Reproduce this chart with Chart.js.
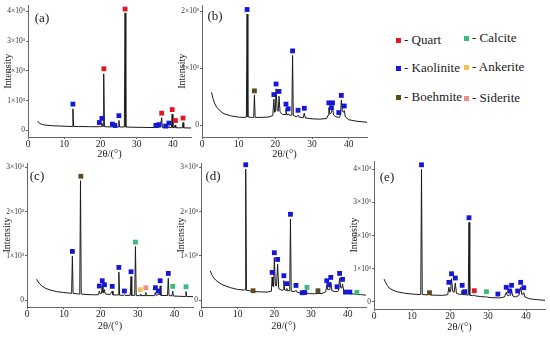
<!DOCTYPE html>
<html>
<head>
<meta charset="utf-8">
<script src="https://cdn.jsdelivr.net/npm/chart.js@4.4.1/dist/chart.umd.min.js"></script>
<style>
  body { margin: 0; background: #fff; width: 550px; height: 338px; position: relative; overflow: hidden; font-family: "Liberation Serif", "Times New Roman", Times, "DejaVu Serif", serif; color: #1a1a1a; }
  canvas { position: absolute; }
  .tag { position: absolute; font-size: 13px; line-height: 1; transform: translate(-50%, -50%); }
  .key { position: absolute; font-size: 13px; line-height: 14px; display: flex; align-items: center; white-space: nowrap; }
  .key i { display: inline-block; width: 5px; height: 5px; margin-right: 3px; }
</style>
</head>
<body>
<canvas id="chartA"></canvas>
<canvas id="chartB"></canvas>
<canvas id="chartC"></canvas>
<canvas id="chartD"></canvas>
<canvas id="chartE"></canvas>
<script>
const minerals = ['Quart', 'Kaolinite', 'Boehmite', 'Calcite', 'Ankerite', 'Siderite']
const mineralCodes = ['Q', 'K', 'B', 'C', 'A', 'S']
const mineralColors = ['#e3171f', '#1616d6', '#5b4a1c', '#3dbb7a', '#f2c250', '#f08c8c']

const xTicks = [0, 10, 20, 30, 40]
const yTicks3 = [0, 1000, 2000, 3000]
const yTicks4 = [0, 1000, 2000, 3000, 4000]
const yTicks2 = [0, 1000, 2000]

// (a) pattern [2theta, intensity] and phase marks [2theta, intensity, phase]
const patternA = [[2.7,310],[3.2,230],[4,190],[5,170],[7,150],[9,140],[11,130],[12.2,128],[12.4,720],[12.6,128],[14,125],[17,120],[19.6,118],[19.8,135],[20,118],[20.25,120],[20.4,240],[20.6,130],[20.75,130],[20.9,1900],[21.1,120],[22,115],[23.1,112],[23.3,125],[23.5,112],[23.85,110],[24,118],[24.15,110],[24.9,110],[25.1,330],[25.3,110],[26.6,108],[26.8,3950],[27,108],[29,100],[32,95],[35.1,90],[35.3,100],[35.5,90],[36.1,90],[36.3,105],[36.5,92],[36.7,92],[36.9,420],[37.1,90],[37.8,88],[38,100],[38.2,88],[38.7,88],[38.9,130],[39.1,88],[39.6,88],[39.8,540],[40,88],[40.4,85],[40.6,170],[40.8,85],[42.6,80],[42.8,260],[43,80],[45,75]]
const marksA = [[12.4,880,'K'],[19.7,260,'K'],[20.4,400,'K'],[23.3,205,'K'],[24.0,160,'K'],[25.1,490,'K'],[35.3,165,'K'],[36.2,190,'K'],[38.0,140,'K'],[38.9,240,'K'],
  [20.95,2070,'Q'],[26.8,4080,'Q'],[36.9,575,'Q'],[39.8,695,'Q'],[40.7,325,'Q'],[42.8,410,'Q']]

// (b)
const patternB = [[2.6,580],[3,470],[3.5,380],[4,320],[5,250],[6,205],[8,165],[10,145],[11.5,140],[12.1,145],[12.3,1950],[12.5,150],[13.5,140],[14.1,140],[14.3,530],[14.5,140],[16,140],[18,145],[19.3,170],[19.6,460],[19.8,230],[20,240],[20.2,640],[20.5,260],[20.8,250],[21.0,510],[21.3,230],[22,190],[22.7,190],[22.9,290],[23.1,190],[23.3,185],[23.5,205],[23.8,180],[24.5,180],[24.7,1225],[24.9,175],[25.8,150],[26.2,180],[26.5,145],[27.6,135],[27.9,215],[28.2,130],[30,115],[32,110],[34,120],[34.4,180],[34.6,310],[34.9,200],[35.3,225],[35.6,310],[35.9,180],[36.5,150],[37.1,145],[37.3,140],[37.6,150],[37.8,200],[38.0,440],[38.3,250],[38.6,230],[38.8,260],[39.1,150],[40,100],[42,75],[45,55]]
const marksB = [[12.3,2030,'K'],[19.6,540,'K'],[20.2,725,'K'],[21.0,595,'K'],[22.9,373,'K'],[23.5,290,'K'],[24.7,1305,'K'],[26.2,265,'K'],[27.9,300,'K'],[34.6,395,'K'],[35.3,310,'K'],[35.6,395,'K'],[37.3,225,'K'],[38.0,525,'K'],[38.8,340,'K'],
  [14.3,605,'B']]

// (c)
const patternC = [[2.6,470],[3,410],[3.5,360],[4,320],[5,265],[6,235],[8,190],[10,170],[11.5,155],[12.1,150],[12.3,990],[12.5,150],[13.5,140],[14.3,135],[14.5,2700],[14.7,135],[16,125],[18,118],[19.4,120],[19.6,200],[19.8,150],[20.2,150],[20.4,320],[20.6,170],[20.8,160],[21.0,235],[21.2,140],[22.5,120],[23.1,200],[23.3,115],[24.7,115],[24.9,630],[25.1,110],[26.2,105],[26.4,120],[26.6,105],[28,105],[28.2,530],[28.4,105],[29.2,105],[29.4,1210],[29.6,100],[30.5,100],[30.7,125],[30.9,100],[32,100],[32.2,170],[32.4,100],[34.6,100],[34.8,170],[35,110],[35.4,110],[35.6,130],[35.9,120],[36.1,320],[36.3,105],[38.1,100],[38.3,490],[38.5,100],[39.3,95],[39.5,200],[39.7,90],[41,85],[42.9,80],[43.1,190],[43.3,80],[45,75]]
const marksC = [[12.3,1100,'K'],[19.6,316,'K'],[20.4,436,'K'],[21.0,346,'K'],[23.1,309,'K'],[24.9,738,'K'],[26.4,203,'K'],[28.2,640,'K'],[34.8,278,'K'],[35.6,203,'K'],[36.1,436,'K'],[38.3,602,'K'],
  [14.6,2800,'B'],[29.4,1310,'C'],[39.5,309,'C'],[43.1,300,'C'],[30.7,233,'A'],[32.2,278,'S']]

// (d)
const patternD = [[2.5,660],[3,560],[3.5,500],[4,450],[5,390],[6,340],[8,280],[10,240],[11.8,225],[12.0,230],[12.2,2960],[12.4,220],[13.5,205],[14.0,195],[14.2,225],[14.4,190],[16,185],[18,180],[19.2,200],[19.4,520],[19.6,320],[19.8,300],[20.0,960],[20.3,330],[20.6,320],[20.9,810],[21.2,260],[22,220],[22.4,230],[22.6,440],[22.8,230],[23.2,220],[23.4,260],[23.6,210],[24.2,210],[24.4,1830],[24.6,200],[25.6,190],[25.9,220],[26.2,175],[27.5,150],[27.6,158],[28.3,150],[28.9,158],[29.5,145],[31,140],[31.9,148],[33,145],[34.0,185],[34.3,330],[34.6,230],[34.9,240],[35.1,230],[35.4,400],[35.7,210],[36.5,190],[37.1,190],[37.5,210],[37.8,490],[38.1,280],[38.4,270],[38.6,360],[38.9,220],[39.4,160],[40,150],[40.6,145],[41.5,135],[42.5,130],[43.5,122],[45,110]]
const marksD = [[12.2,3060,'K'],[19.4,625,'K'],[20.0,1070,'K'],[20.9,918,'K'],[22.6,550,'K'],[23.4,370,'K'],[24.4,1940,'K'],[25.9,330,'K'],[27.6,165,'K'],[28.3,170,'K'],[34.3,436,'K'],[34.9,346,'K'],[35.4,512,'K'],[37.1,300,'K'],[37.8,602,'K'],[38.6,467,'K'],[39.4,180,'K'],[40.6,180,'K'],
  [14.2,210,'B'],[31.9,210,'B'],[28.9,285,'C'],[42.5,174,'C']]

// (e)
const patternE = [[2.65,690],[3,600],[3.5,500],[4,420],[5,355],[6,310],[8,265],[10,240],[12.1,225],[12.3,230],[12.5,4000],[12.7,225],[14,215],[14.6,235],[14.8,210],[16,205],[18,200],[19.4,220],[19.7,445],[19.95,300],[20.15,310],[20.4,700],[20.7,320],[21.1,290],[21.4,575],[21.7,260],[22.5,230],[23.0,230],[23.2,355],[23.4,225],[23.75,220],[23.9,260],[24.1,215],[24.8,210],[25.0,2400],[25.2,205],[26,190],[26.4,215],[26.6,185],[28,165],[29.4,150],[29.6,170],[29.8,145],[31,130],[32.6,125],[33,120],[34.3,150],[34.8,290],[35.1,200],[35.5,190],[35.7,220],[35.9,200],[36.2,350],[36.5,180],[37.3,150],[37.8,180],[38.1,190],[38.6,440],[38.9,230],[39.1,220],[39.4,280],[39.7,150],[41,95],[43,70],[45,50]]
const marksE = [[12.5,4135,'K'],[19.7,593,'K'],[20.4,852,'K'],[21.4,723,'K'],[23.2,503,'K'],[23.9,310,'K'],[25.0,2540,'K'],[32.6,240,'K'],[34.8,443,'K'],[35.7,331,'K'],[36.2,503,'K'],[37.8,331,'K'],[38.6,593,'K'],[39.4,431,'K'],
  [14.6,280,'B'],[26.4,340,'Q'],[29.6,310,'C']]

const font = '"Liberation Serif", "Times New Roman", Times, "DejaVu Serif", serif'

const drawPanel = (id, box, pattern, marks, yMin, yMax, yTicks) => {
  const canvas = document.getElementById(id)
  canvas.width = box.w
  canvas.height = box.h
  canvas.style.left = box.x + 'px'
  canvas.style.top = box.y + 'px'

  const markSets = mineralCodes.map((code, i) => ({
    data: marks.filter(m => m[2] === code).map(m => ({ x: m[0], y: m[1] })),
    showLine: false,
    pointStyle: 'rect',
    pointRadius: 3.4,
    pointBackgroundColor: mineralColors[i],
    pointBorderWidth: 0,
    clip: false,
    order: 0
  })).filter(d => d.data.length)

  const data = {
    datasets: [...markSets, {
      data: pattern.map(p => ({ x: p[0], y: p[1] })),
      borderColor: '#1a1a1a',
      borderWidth: 1,
      pointRadius: 0,
      tension: 0,
      order: 1
    }]
  }

  const options = {
    responsive: false,
    animation: false,
    events: [],
    layout: { padding: { top: box.padTop, right: box.padRight, left: 0, bottom: 0 } },
    plugins: { legend: { display: false }, tooltip: { enabled: false } },
    scales: {
      x: {
        type: 'linear', min: 0, max: 45,
        afterBuildTicks: s => { s.ticks = xTicks.map(v => ({ value: v })) },
        afterFit: s => { s.height = box.xh },
        grid: { drawOnChartArea: false, tickLength: 2, color: '#666' },
        border: { color: '#666' },
        ticks: { font: { family: font, size: 9.5 }, color: '#222', padding: 0, maxRotation: 0 },
        title: { display: true, text: '2θ/(°)', font: { family: font, size: 10.5 }, color: '#222', padding: 0 }
      },
      y: {
        type: 'linear', min: yMin, max: yMax,
        afterBuildTicks: s => { s.ticks = yTicks.map(v => ({ value: v })) },
        afterFit: s => { s.width = 27 },
        grid: { drawOnChartArea: false, tickLength: 2, color: '#666' },
        border: { color: '#666' },
        ticks: { font: { family: font, size: 7.5 }, color: '#333', padding: 1, callback: v => v === 0 ? '0' : (v / 1000) + '×10³' },
        title: { display: true, text: 'Intensity', font: { family: font, size: 10 }, color: '#222', padding: { top: 1, bottom: 0 } }
      }
    }
  }

  new Chart(canvas, { type: 'line', data, options })
}

drawPanel('chartA', { x: 1, y: 0, w: 196, h: 161, padTop: 1, padRight: 6, xh: 24 }, patternA, marksA, -228, 4200, yTicks4)
drawPanel('chartB', { x: 175, y: 0, w: 198, h: 161, padTop: 1, padRight: 6, xh: 24 }, patternB, marksB, -203, 2100, yTicks2)
drawPanel('chartC', { x: 0, y: 157, w: 199, h: 176, padTop: 6, padRight: 6, xh: 26 }, patternC, marksC, -158, 3100, yTicks3)
drawPanel('chartD', { x: 174, y: 157, w: 198, h: 176, padTop: 6, padRight: 6, xh: 26 }, patternD, marksD, -158, 3100, yTicks3)
drawPanel('chartE', { x: 347, y: 155, w: 203, h: 179, padTop: 6, padRight: 5, xh: 25 }, patternE, marksE, -211, 4250, yTicks4)

// panel letters
const panelTags = ['(a)', '(b)', '(c)', '(d)', '(e)']
const tagSpots = [[42, 17], [215, 15], [37, 175], [213, 175], [387, 176]]
panelTags.forEach((t, i) => {
  const d = document.createElement('div')
  d.className = 'tag'
  d.textContent = t
  d.style.left = tagSpots[i][0] + 'px'
  d.style.top = tagSpots[i][1] + 'px'
  document.body.appendChild(d)
})

// phase key
const keySpots = [[396, 40], [396, 68], [396, 97], [464, 38], [464, 67], [464, 98]]
minerals.forEach((name, i) => {
  const d = document.createElement('div')
  d.className = 'key'
  d.style.left = keySpots[i][0] + 'px'
  d.style.top = (keySpots[i][1] - 7) + 'px'
  const sq = document.createElement('i')
  sq.style.background = mineralColors[i]
  d.appendChild(sq)
  d.appendChild(document.createTextNode('- ' + name))
  document.body.appendChild(d)
})
</script>
</body>
</html>
